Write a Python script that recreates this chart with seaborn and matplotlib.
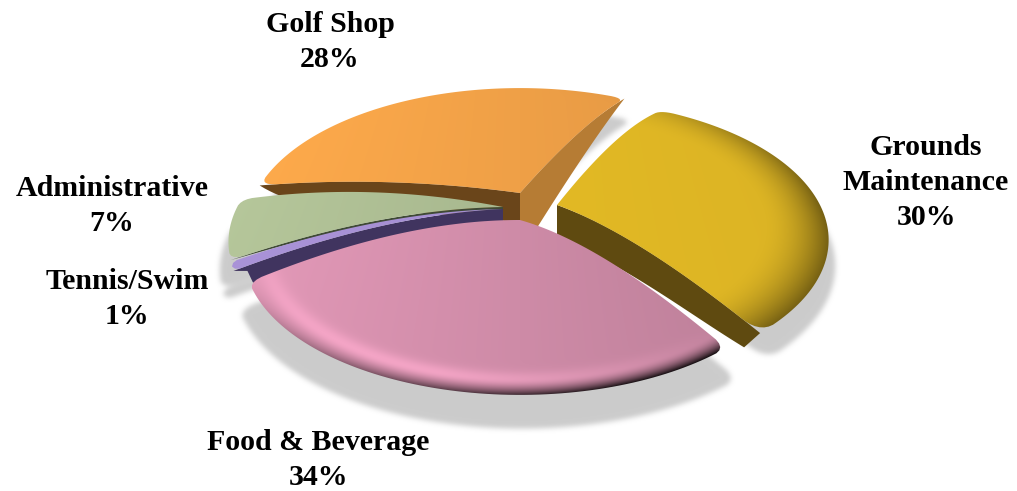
import numpy as np
import seaborn as sns
import matplotlib
matplotlib.use("Agg")
import matplotlib.pyplot as plt
from matplotlib.backends.backend_agg import FigureCanvasAgg
from matplotlib.figure import Figure
from matplotlib.patches import Polygon
from matplotlib.colors import to_rgb

# Share of expenses by department, clockwise from the upper right
departments = ["Grounds\nMaintenance", "Food & Beverage", "Tennis/Swim", "Administrative", "Golf Shop"]
shares = [30, 34, 1, 7, 28]

top_hex = ["#E2B925", "#CE8BA7", "#A58FD2", "#A8B88F", "#EFA047"]
start_wall_hex = [None, None, "#40345F", "#3F4A36", "#6A451A"]
end_wall_hex = ["#5F4A10", None, None, None, "#B67C34"]
palette = sns.color_palette(top_hex)

# Exploded apex of each slice, in figure pixels
apex_x = [557, 520, 503, 503, 520]
apex_y = [205, 220, 209, 207, 193]
radius_scale = [0.975, 0.99, 0.985, 0.985, 0.98]
start_depth = [0, 0, 24, 3, 30]
end_depth = [34, 0, 0, 0, 62]
bow = [11, 14, 11, 11, 7]
label_x = [926, 318, 127, 112, 330]
label_y = [146, 441, 280, 187, 23]

W, H = 1017, 491
R, A, P = 270.0, 131.25, 0.25   # perspective of the tilted disc


def screen_angle(theta):
    return theta + 25.0 + 11.0 * np.cos(np.radians(theta - 70.0))


def project(radius, angle, ax0, ay0, s):
    a = np.radians(angle)
    xm, ym = radius * np.sin(a), radius * np.cos(a)
    k = 1 + P * ym
    return ax0 + s * R * xm / k, ay0 - A * ym / k


def radial(angle, ax0, ay0, b, s):
    t = np.linspace(0, 1, 50)
    x, y = project(t, angle, ax0, ay0, s)
    return x, y - b * 4 * t * (1 - t), t


def outline(a0, a1, ax0, ay0, b, s, win):
    x0, y0, _ = radial(a0, ax0, ay0, b, s)
    x1, y1, _ = radial(a1, ax0, ay0, b, s)
    arc = np.linspace(a0, a1, max(3, int((a1 - a0) / 1.2)))
    xa, ya = project(1.0, arc, ax0, ay0, s)
    x = np.r_[x0, xa[1:-1], x1[::-1]]
    y = np.r_[y0, ya[1:-1], y1[::-1]]
    kernel = np.ones(win) / win
    pad = win
    sx = np.convolve(np.r_[x[:pad], x, x[-pad:]], kernel, "same")[pad:-pad]
    sy = np.convolve(np.r_[y[:pad], y, y[-pad:]], kernel, "same")[pad:-pad]
    sx[:12], sy[:12] = x[:12], y[:12]
    sx[-12:], sy[-12:] = x[-12:], y[-12:]
    return np.c_[sx, sy]


def wall(angle, ax0, ay0, b, s, depth, taper, shift, keep=0.0):
    x, y, t = radial(angle, ax0, ay0, b, s)
    d = depth * (1 - (1 - keep) * t ** taper)
    bottom = np.c_[x + shift * t ** 3, y + d]
    return np.r_[np.c_[x, y], bottom[::-1]]


def blur(mask, size, passes=3):
    kernel = np.ones(size) / size
    for _ in range(passes):
        mask = np.apply_along_axis(lambda v: np.convolve(v, kernel, "same"), 0, mask)
        mask = np.apply_along_axis(lambda v: np.convolve(v, kernel, "same"), 1, mask)
    return mask


def shaded_top(rgb, ax0, ay0, s, grad, dark, edge_from, edge_pow, glow):
    gx, gy = np.meshgrid(np.arange(W) + 0.5, np.arange(H) + 0.5)
    Y = ay0 - gy
    ym = Y / (A - P * Y)
    xm = (gx - ax0) * (1 + P * ym) / (s * R)
    r = np.hypot(xm, ym) + 1e-6
    f = 1 - grad * xm
    edge = np.clip((r - edge_from) / (1.0 - edge_from), 0, 1)
    towards = np.clip(0.45 + 0.75 * xm / r - 0.55 * ym / r, 0, 1.2)
    f = f - dark * towards * edge ** edge_pow
    band = np.exp(-((r - 0.93) / 0.035) ** 2)
    f = f + glow * band * np.clip(-ym / r, 0, 1) * np.clip(0.75 - xm / r, 0, 1)
    return np.clip(np.asarray(rgb)[None, None, :] * f[..., None], 0, 1)


sns.set_theme(style="white")
fig = plt.figure(figsize=(W / 100, H / 100), dpi=100)
ax = fig.add_axes([0, 0, 1, 1])
ax.set_xlim(0, W)
ax.set_ylim(H, 0)
ax.axis("off")

cum = np.r_[0, np.cumsum(shares)] * 3.6
starts = screen_angle(cum[:-1])
ends = screen_angle(cum[1:])
windows = [7, 5, 3, 5, 7]
outlines = [outline(starts[i], ends[i], apex_x[i], apex_y[i], bow[i], radius_scale[i], windows[i]) for i in range(5)]

# Soft cast shadow rendered off-screen, blurred, and laid under the slices
shadow_fig = Figure(figsize=(W / 100, H / 100), dpi=100)
shadow_canvas = FigureCanvasAgg(shadow_fig)
shadow_ax = shadow_fig.add_axes([0, 0, 1, 1])
shadow_ax.set_xlim(0, W)
shadow_ax.set_ylim(H, 0)
shadow_ax.axis("off")
shadow_dx = [6, 2, -8, -8, 6]
shadow_dy = [26, 26, 28, 28, 22]
shadow_grow = [1.0, 1.04, 1.0, 1.0, 1.0]
for i in range(5):
    centre = np.array([apex_x[i], apex_y[i]])
    pts = centre + (outlines[i] - centre) * shadow_grow[i] + [shadow_dx[i], shadow_dy[i]]
    shadow_ax.add_patch(Polygon(pts, fc="k", ec="k"))
shadow_canvas.draw()
mask = 1 - np.asarray(shadow_canvas.buffer_rgba())[..., 0] / 255.0
mask = blur(mask, 5)
shadow = np.zeros((H, W, 4))
shadow[..., :3] = 0.78
shadow[..., 3] = mask
ax.imshow(shadow, extent=(0, W, H, 0), aspect="auto", zorder=1, interpolation="bilinear")

# Slices from back to front
grad = [0.03, 0.11, 0.03, 0.08, 0.06]
dark = [0.38, 0.72, 0.0, 0.05, 0.05]
edge_from = [0.76, 0.93, 0.9, 0.9, 0.9]
edge_pow = [2.0, 2.0, 2.0, 2.0, 2.0]
glow = [0.0, 0.15, 0.0, 0.0, 0.0]
order = [4, 3, 2, 0, 1]
for z, i in enumerate(order):
    base = 2 + z * 3
    if start_wall_hex[i]:
        taper, shift = (40, 14) if i == 2 else (6, 0)
        ax.add_patch(Polygon(wall(starts[i], apex_x[i], apex_y[i], bow[i], radius_scale[i], start_depth[i], taper, shift),
                             fc=start_wall_hex[i], ec="none", zorder=base))
    if end_wall_hex[i]:
        if i == 4:
            edge_wall = wall(ends[i], apex_x[i], apex_y[i], bow[i], radius_scale[i], end_depth[i], 1, 0)
        else:
            edge_wall = wall(ends[i], apex_x[i], apex_y[i], bow[i], radius_scale[i], end_depth[i], 4, -16, keep=0.42)
        ax.add_patch(Polygon(edge_wall, fc=end_wall_hex[i], ec="none", zorder=base))
    clip = Polygon(outlines[i], transform=ax.transData, fc="none", ec="none")
    ax.add_patch(clip)
    im = ax.imshow(shaded_top(to_rgb(palette[i]), apex_x[i], apex_y[i], radius_scale[i], grad[i], dark[i],
                              edge_from[i], edge_pow[i], glow[i]),
                   extent=(0, W, H, 0), aspect="auto", zorder=base + 1, interpolation="bilinear")
    im.set_clip_path(clip)

ax.set_xlim(0, W)
ax.set_ylim(H, 0)

# Category and share labels
for i, name in enumerate(departments):
    ax.text(label_x[i], label_y[i] - 12, f"{name}\n{shares[i]}%", ha="center", va="top",
            family="Liberation Serif", weight="bold", fontsize=21.5, color="black", linespacing=1.38, zorder=30)

fig.savefig("out.png", dpi=100)
